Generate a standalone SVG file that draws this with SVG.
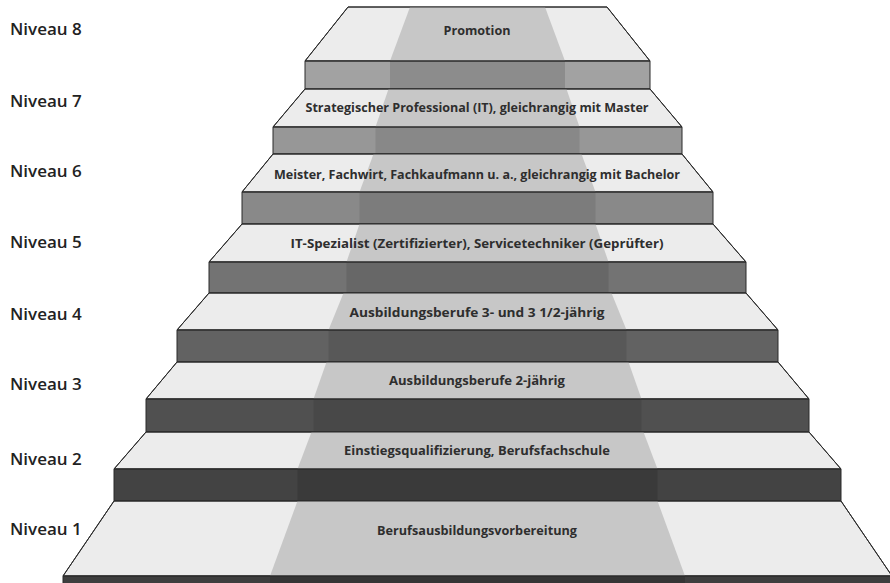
<svg xmlns="http://www.w3.org/2000/svg" width="890" height="583" viewBox="0 0 890 583">
<style>
.tread{fill:#ececec;stroke:#2a2a2a;stroke-width:1;stroke-linejoin:round}
.tband{fill:#c7c7c7}
.edge{fill:none;stroke:#2a2a2a;stroke-width:1;stroke-linejoin:round}
.lbl{font-family:"Open Sans","Noto Sans",sans-serif;font-weight:700;font-size:13px;fill:#2e2e2e;text-anchor:middle}
.niv{font-family:"Open Sans","Noto Sans",sans-serif;font-weight:600;font-size:17px;fill:#222}
</style>
<rect width="890" height="583" fill="#fff"/>
<g id="level8">
<polygon class="tread" points="348,7 607,7 650,61 305,61"/>
<polygon class="tband" points="410,7 545,7 565,61 390,61"/>
<rect x="305" y="61" width="345" height="28" fill="#a2a2a2"/>
<rect x="390" y="61" width="175" height="28" fill="#8c8c8c"/>
<polygon class="edge" points="348,7 607,7 650,61 305,61"/>
<rect class="edge" x="305" y="61" width="345" height="28"/>
<text class="lbl" x="477" y="35" textLength="67" lengthAdjust="spacingAndGlyphs">Promotion</text>
<text class="niv" x="10" y="35">Niveau 8</text>
</g>
<g id="level7">
<polygon class="tread" points="305,89 650,89 682,127 273,127"/>
<polygon class="tband" points="388.5,89 566.5,89 579.5,127 375.5,127"/>
<rect x="273" y="127" width="409" height="27" fill="#979797"/>
<rect x="375.5" y="127" width="204" height="27" fill="#888"/>
<polygon class="edge" points="305,89 650,89 682,127 273,127"/>
<rect class="edge" x="273" y="127" width="409" height="27"/>
<text class="lbl" x="477" y="112" textLength="343" lengthAdjust="spacingAndGlyphs">Strategischer Professional (IT), gleichrangig mit Master</text>
<text class="niv" x="10" y="107">Niveau 7</text>
</g>
<g id="level6">
<polygon class="tread" points="273,154 682,154 713,192 242,192"/>
<polygon class="tband" points="373.5,154 581.5,154 595.5,192 359.5,192"/>
<rect x="242" y="192" width="471" height="32" fill="#898989"/>
<rect x="359.5" y="192" width="236" height="32" fill="#7c7c7c"/>
<polygon class="edge" points="273,154 682,154 713,192 242,192"/>
<rect class="edge" x="242" y="192" width="471" height="32"/>
<text class="lbl" x="477" y="179" textLength="406" lengthAdjust="spacingAndGlyphs">Meister, Fachwirt, Fachkaufmann u. a., gleichrangig mit Bachelor</text>
<text class="niv" x="10" y="177">Niveau 6</text>
</g>
<g id="level5">
<polygon class="tread" points="242,224 713,224 746,262 209,262"/>
<polygon class="tband" points="359.5,224 595.5,224 608.5,262 346.5,262"/>
<rect x="209" y="262" width="537" height="31" fill="#737373"/>
<rect x="346.5" y="262" width="262" height="31" fill="#676767"/>
<polygon class="edge" points="242,224 713,224 746,262 209,262"/>
<rect class="edge" x="209" y="262" width="537" height="31"/>
<text class="lbl" x="477" y="248" textLength="373" lengthAdjust="spacingAndGlyphs">IT-Spezialist (Zertifizierter), Servicetechniker (Geprüfter)</text>
<text class="niv" x="10" y="248">Niveau 5</text>
</g>
<g id="level4">
<polygon class="tread" points="209,293 746,293 778,330 177,330"/>
<polygon class="tband" points="343.5,293 611.5,293 626.5,330 328.5,330"/>
<rect x="177" y="330" width="601" height="32" fill="#626262"/>
<rect x="328.5" y="330" width="298" height="32" fill="#585858"/>
<polygon class="edge" points="209,293 746,293 778,330 177,330"/>
<rect class="edge" x="177" y="330" width="601" height="32"/>
<text class="lbl" x="477" y="317" textLength="255" lengthAdjust="spacingAndGlyphs">Ausbildungsberufe 3- und 3 1/2-jährig</text>
<text class="niv" x="10" y="320">Niveau 4</text>
</g>
<g id="level3">
<polygon class="tread" points="177,362 778,362 809,399 146,399"/>
<polygon class="tband" points="326.5,362 628.5,362 641.5,399 313.5,399"/>
<rect x="146" y="399" width="663" height="33" fill="#505050"/>
<rect x="313.5" y="399" width="328" height="33" fill="#484848"/>
<polygon class="edge" points="177,362 778,362 809,399 146,399"/>
<rect class="edge" x="146" y="399" width="663" height="33"/>
<text class="lbl" x="477" y="385" textLength="176" lengthAdjust="spacingAndGlyphs">Ausbildungsberufe 2-jährig</text>
<text class="niv" x="10" y="390">Niveau 3</text>
</g>
<g id="level2">
<polygon class="tread" points="146,432 809,432 841,469 114,469"/>
<polygon class="tband" points="311.5,432 643.5,432 657.5,469 297.5,469"/>
<rect x="114" y="469" width="727" height="32" fill="#434343"/>
<rect x="297.5" y="469" width="360" height="32" fill="#3a3a3a"/>
<polygon class="edge" points="146,432 809,432 841,469 114,469"/>
<rect class="edge" x="114" y="469" width="727" height="32"/>
<text class="lbl" x="477" y="455" textLength="266" lengthAdjust="spacingAndGlyphs">Einstiegsqualifizierung, Berufsfachschule</text>
<text class="niv" x="10" y="465">Niveau 2</text>
</g>
<g id="level1">
<polygon class="tread" points="114,501 841,501 892,576 63,576"/>
<polygon class="tband" points="297.5,501 657.5,501 685,576 270,576"/>
<rect x="63" y="576" width="829" height="14" fill="#3e3e3e"/>
<rect x="270" y="576" width="415" height="14" fill="#353535"/>
<polygon class="edge" points="114,501 841,501 892,576 63,576"/>
<rect class="edge" x="63" y="576" width="829" height="14"/>
<text class="lbl" x="477" y="535" textLength="200" lengthAdjust="spacingAndGlyphs">Berufsausbildungsvorbereitung</text>
<text class="niv" x="10" y="535">Niveau 1</text>
</g>
<g id="connectors"/>
</svg>
